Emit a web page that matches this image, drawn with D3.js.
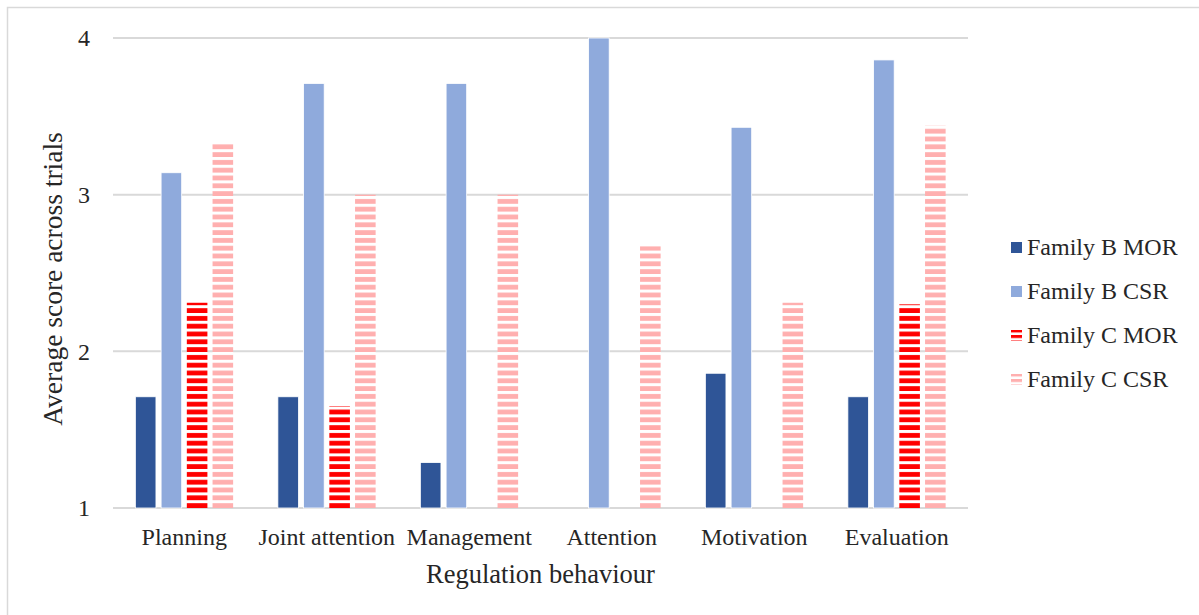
<!DOCTYPE html>
<html>
<head>
<meta charset="utf-8">
<script src="https://cdn.jsdelivr.net/npm/d3@7"></script>
<style>
  html, body { margin: 0; padding: 0; background: #fff; }
  svg { display: block; }
  svg text { font-family: "Liberation Serif", Tinos, "Times New Roman", "DejaVu Serif", serif !important; fill: #262626; }
</style>
</head>
<body>
<svg id="chart" width="1199" height="615"></svg>
<script>
// Regulation behaviour categories
const categories = ["Planning", "Joint attention", "Management", "Attention", "Motivation", "Evaluation"];

// Series names
const seriesNames = ["Family B MOR", "Family B CSR", "Family C MOR", "Family C CSR"];

// Average score across trials per series (null = no bar)
const familyBMOR = [1.71, 1.71, 1.29, null, 1.86, 1.71];
const familyBCSR = [3.14, 3.71, 3.71, 4.00, 3.43, 3.86];
const familyCMOR = [2.31, 1.65, null, null, null, 2.30];
const familyCCSR = [3.33, 3.00, 3.00, 2.67, 2.31, 3.44];

// Y axis ticks
const yTicks = [1, 2, 3, 4];

const seriesValues = [familyBMOR, familyBCSR, familyCMOR, familyCCSR];

const FONT = '"Liberation Serif", Tinos, "Times New Roman", "DejaVu Serif", serif';

const svg = d3.select("#chart");
const W = 1199, H = 615;

// outer chart frame
svg.append("rect")
  .attr("x", 7.5).attr("y", 7.5)
  .attr("width", W).attr("height", H)
  .attr("fill", "#fff").attr("stroke", "#d9d9d9").attr("stroke-width", 1.5);

const plot = { left: 113, right: 968, top: 38, bottom: 508 };

const x0 = d3.scaleBand().domain(categories).range([plot.left, plot.right]).paddingInner(0.314).paddingOuter(0.157);
const x1 = d3.scaleBand().domain(seriesNames).range([0, x0.bandwidth()]).paddingInner(0.2).paddingOuter(0);
const y = d3.scaleLinear().domain([1, 4]).range([plot.bottom, plot.top]);

const colors = ["#2F5597", "#8FAADC", "#FF0000", "#FFAFAF"];

// horizontal stripe patterns for Family C series
const defs = svg.append("defs");
[2, 3].forEach(i => {
  const p = defs.append("pattern")
    .attr("id", "stripe" + i)
    .attr("patternUnits", "userSpaceOnUse")
    .attr("x", 0).attr("y", plot.bottom)
    .attr("width", 8).attr("height", 7.8);
  p.append("rect").attr("x", 0).attr("y", 0).attr("width", 8).attr("height", 7.8).attr("fill", "#fff");
  p.append("rect").attr("x", 0).attr("y", 3).attr("width", 8).attr("height", 4.8).attr("fill", colors[i]);
});

// legend stripe swatches
[2, 3].forEach(i => {
  const p = defs.append("pattern")
    .attr("id", "legstripe" + i)
    .attr("patternUnits", "userSpaceOnUse")
    .attr("x", 0).attr("y", 0)
    .attr("width", 11).attr("height", 5.5);
  p.append("rect").attr("width", 11).attr("height", 5.5).attr("fill", "#fff");
  p.append("rect").attr("y", 0).attr("width", 11).attr("height", 3).attr("fill", colors[i]);
});

// gridlines
svg.append("g")
  .selectAll("line")
  .data(yTicks)
  .join("line")
  .attr("x1", plot.left).attr("x2", plot.right)
  .attr("y1", d => y(d)).attr("y2", d => y(d))
  .attr("stroke", "#d9d9d9").attr("stroke-width", 2);

// y axis labels
const yAxis = d3.axisLeft(y).tickValues(yTicks).tickSize(0).tickPadding(23).tickFormat(d3.format("d"));
const yg = svg.append("g").attr("transform", `translate(${plot.left},0)`).call(yAxis);
yg.attr("font-family", FONT).attr("font-size", 24);
yg.select(".domain").remove();
yg.selectAll("text").attr("fill", "#262626");

// bars
const groups = svg.append("g")
  .selectAll("g")
  .data(categories)
  .join("g")
  .attr("transform", d => `translate(${x0(d)},0)`);

groups.selectAll("rect")
  .data((c, ci) => seriesNames.map((s, si) => ({ s, si, v: seriesValues[si][ci] })).filter(d => d.v != null))
  .join("rect")
  .attr("x", d => x1(d.s))
  .attr("width", x1.bandwidth())
  .attr("y", d => y(d.v))
  .attr("height", d => y(1) - y(d.v))
  .attr("fill", d => d.si >= 2 ? `url(#stripe${d.si})` : colors[d.si])
  .attr("stroke", d => d.si >= 2 ? "none" : "#fff")
  .attr("stroke-width", 0.8);

// x axis labels
const xAxis = d3.axisBottom(x0).tickSize(0).tickPadding(20);
const xg = svg.append("g").attr("transform", `translate(0,${plot.bottom})`).call(xAxis);
xg.attr("font-family", FONT).attr("font-size", 24);
xg.select(".domain").remove();
xg.selectAll("text").attr("fill", "#262626");

// axis titles
svg.append("text")
  .attr("x", (plot.left + plot.right) / 2).attr("y", 583)
  .attr("text-anchor", "middle").attr("font-size", 26.5).attr("font-family", FONT)
  .text("Regulation behaviour");

svg.append("text")
  .attr("transform", `translate(62,${(plot.top + plot.bottom) / 2 + 6}) rotate(-90)`)
  .attr("text-anchor", "middle").attr("font-size", 27.5).attr("font-family", FONT)
  .text("Average score across trials");

// legend
const legend = svg.append("g").attr("transform", "translate(1011,247)");
const li = legend.selectAll("g")
  .data(seriesNames)
  .join("g")
  .attr("transform", (d, i) => `translate(0,${i * 44})`);
li.append("rect")
  .attr("x", 0).attr("y", -5).attr("width", 11).attr("height", 11)
  .attr("fill", (d, i) => i >= 2 ? `url(#legstripe${i})` : colors[i]);
li.append("text")
  .attr("x", 16).attr("y", 8)
  .attr("font-size", 24).attr("font-family", FONT)
  .text(d => d);
</script>
</body>
</html>
